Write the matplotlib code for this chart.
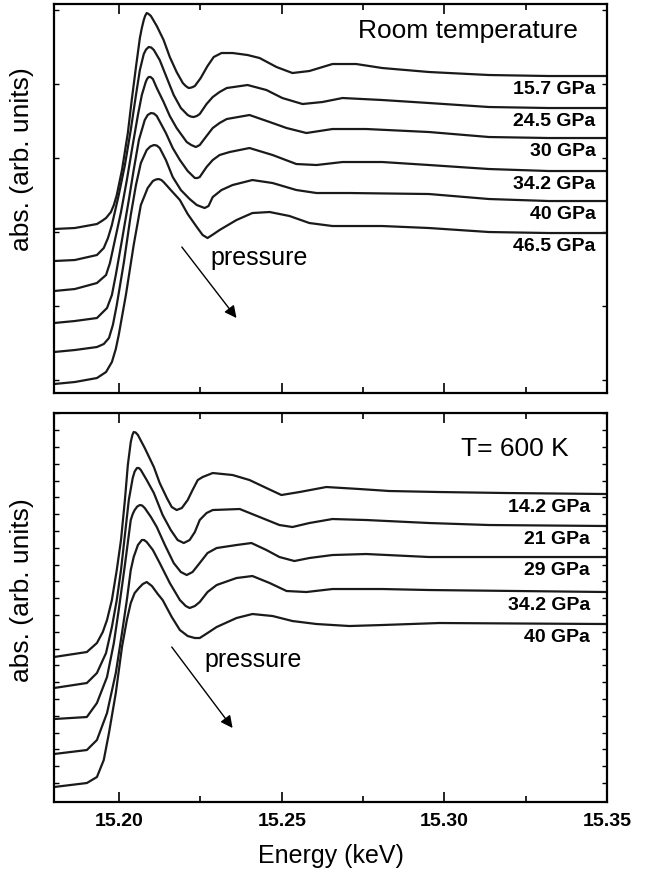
import matplotlib
matplotlib.use("Agg")
import matplotlib.pyplot as plt
import numpy as np
from matplotlib.ticker import MultipleLocator, FixedLocator

plt.rcParams["font.family"] = ["Liberation Sans", "DejaVu Sans"]

# ---- room temperature spectra (energy in keV, absorption in arb. units, stacked) ----
rt_labels = ["15.7 GPa", "24.5 GPa", "30 GPa", "34.2 GPa", "40 GPa", "46.5 GPa"]

rt_e1 = [15.1800, 15.1864, 15.1932, 15.1947, 15.1960, 15.1975, 15.1984, 15.1993, 15.2009, 15.2027,
         15.2039, 15.2052, 15.2064, 15.2070, 15.2076, 15.2080, 15.2085, 15.2091, 15.2098, 15.2107,
         15.2116, 15.2137, 15.2156, 15.2177, 15.2196, 15.2205, 15.2214, 15.2223, 15.2233, 15.2251,
         15.2272, 15.2291, 15.2315, 15.2349, 15.2395, 15.2432, 15.2484, 15.2533, 15.2585, 15.2656,
         15.2729, 15.2809, 15.2953, 15.3137, 15.3321, 15.3500]
rt_a1 = [164, 165, 169, 172, 175, 181, 188, 198, 223, 260,
         293, 326, 355, 365, 373, 377, 380, 379, 377, 372,
         367, 353, 336, 321, 310, 307, 305, 305.5, 307, 315,
         327, 336, 340, 340, 338, 335, 326, 320, 322, 329,
         329, 325, 321, 318, 317, 317]

rt_e2 = [15.1800, 15.1864, 15.1932, 15.1953, 15.1966, 15.1978, 15.1999, 15.2018, 15.2036, 15.2052,
         15.2064, 15.2076, 15.2083, 15.2091, 15.2099, 15.2107, 15.2125, 15.2147, 15.2168, 15.2190,
         15.2211, 15.2220, 15.2229, 15.2239, 15.2248, 15.2269, 15.2288, 15.2309, 15.2331, 15.2395,
         15.2453, 15.2502, 15.2564, 15.2625, 15.2687, 15.2809, 15.2953, 15.3137, 15.3321, 15.3500]
rt_a2 = [132, 133, 138, 145, 155, 168, 198, 228, 263, 298,
         323, 339, 343.5, 346, 345.5, 343, 333, 315, 298, 285,
         278, 276.5, 276, 277, 279, 289, 296, 301, 305, 308,
         303, 295, 289, 291, 295, 293, 290, 286, 285, 285]

rt_e3 = [15.1800, 15.1864, 15.1932, 15.1960, 15.1972, 15.1984, 15.2006, 15.2024, 15.2042, 15.2058,
         15.2070, 15.2082, 15.2086, 15.2091, 15.2097, 15.2104, 15.2116, 15.2137, 15.2156, 15.2177,
         15.2208, 15.2222, 15.2236, 15.2248, 15.2269, 15.2288, 15.2309, 15.2331, 15.2401, 15.2463,
         15.2515, 15.2576, 15.2656, 15.2760, 15.2953, 15.3137, 15.3321, 15.3500]
rt_a3 = [102, 104, 110, 118, 130, 148, 181, 213, 248, 278,
         298, 311, 314, 316, 316, 314, 305, 291, 277, 265,
         251, 248, 246, 248, 257, 265, 270, 274, 278, 271,
         265, 260, 264, 264, 261, 256, 255, 255]

rt_e4 = [15.1800, 15.1864, 15.1932, 15.1963, 15.1978, 15.1990, 15.2009, 15.2030, 15.2045, 15.2061,
         15.2079, 15.2088, 15.2098, 15.2107, 15.2116, 15.2144, 15.2165, 15.2187, 15.2211, 15.2233,
         15.2241, 15.2248, 15.2269, 15.2288, 15.2309, 15.2340, 15.2401, 15.2472, 15.2545, 15.2607,
         15.2687, 15.2809, 15.2953, 15.3137, 15.3321, 15.3500]
rt_a4 = [70, 72, 75, 85, 98, 118, 153, 193, 223, 253,
         273, 278, 280, 279.5, 277, 260, 245, 233, 222, 215,
         215, 216, 226, 233, 238, 241, 245, 238, 229, 228,
         231, 231, 228, 224, 222, 222]

rt_e5 = [15.1800, 15.1864, 15.1932, 15.1953, 15.1969, 15.1981, 15.1993, 15.2015, 15.2036, 15.2052,
         15.2067, 15.2085, 15.2096, 15.2107, 15.2116, 15.2125, 15.2144, 15.2165, 15.2190, 15.2217,
         15.2239, 15.2263, 15.2275, 15.2288, 15.2315, 15.2349, 15.2410, 15.2472, 15.2545, 15.2607,
         15.2708, 15.2953, 15.3137, 15.3321, 15.3500]
rt_a5 = [41, 43, 46, 49, 55, 68, 88, 131, 178, 208,
         230, 243, 246.5, 248, 247.5, 245, 233, 216, 203, 194,
         188, 185, 187, 196, 203, 208, 213, 210, 203, 200,
         200, 199, 194, 192, 192]

rt_e6 = [15.1800, 15.1864, 15.1932, 15.1960, 15.1978, 15.1990, 15.1999, 15.2021, 15.2045, 15.2067,
         15.2088, 15.2104, 15.2113, 15.2122, 15.2130, 15.2137, 15.2159, 15.2187, 15.2211, 15.2239,
         15.2257, 15.2272, 15.2291, 15.2309, 15.2361, 15.2410, 15.2463, 15.2524, 15.2585, 15.2656,
         15.2809, 15.2953, 15.3137, 15.3321, 15.3500]
rt_a6 = [9, 11, 15, 21, 31, 44, 58, 98, 148, 188,
         205, 212, 213.5, 214, 213, 211, 203, 193, 179, 166,
         158, 155, 159, 163, 173, 180, 181, 177, 170, 167,
         167, 165, 161, 160, 160]

# ---- T = 600 K spectra ----
ht_labels = ["14.2 GPa", "21 GPa", "29 GPa", "34.2 GPa", "40 GPa"]

ht_e1 = [15.1800, 15.1901, 15.1932, 15.1950, 15.1963, 15.1978, 15.1993, 15.2006, 15.2018, 15.2027,
         15.2036, 15.2041, 15.2045, 15.2051, 15.2058, 15.2079, 15.2107, 15.2125, 15.2147, 15.2162,
         15.2177, 15.2193, 15.2211, 15.2226, 15.2242, 15.2257, 15.2288, 15.2349, 15.2401, 15.2453,
         15.2499, 15.2555, 15.2637, 15.2739, 15.2831, 15.2984, 15.3190, 15.3500]
ht_a1 = [145, 150, 159, 170, 182, 202, 232, 262, 302, 337,
         360, 367, 370, 369.5, 367, 354, 335, 319, 304, 295,
         292, 294, 302, 312, 322, 325, 329, 327, 322, 314,
         307, 310, 315, 313, 311, 310, 309, 308]

ht_e2 = [15.1800, 15.1901, 15.1932, 15.1960, 15.1978, 15.1993, 15.2006, 15.2018, 15.2030, 15.2042,
         15.2048, 15.2055, 15.2061, 15.2067, 15.2085, 15.2107, 15.2134, 15.2159, 15.2180, 15.2199,
         15.2217, 15.2233, 15.2248, 15.2269, 15.2288, 15.2371, 15.2432, 15.2493, 15.2533, 15.2585,
         15.2656, 15.2760, 15.2953, 15.3137, 15.3500]
ht_a2 = [114, 119, 129, 149, 175, 202, 232, 267, 302, 324,
         330.5, 334, 334, 332, 322, 309, 287, 272, 262, 259,
         262, 270, 282, 289, 292, 293, 285, 277, 275, 279,
         283, 282, 279, 277, 276]

ht_e3 = [15.1800, 15.1901, 15.1932, 15.1963, 15.1984, 15.1999, 15.2018, 15.2036, 15.2042, 15.2048,
         15.2056, 15.2064, 15.2071, 15.2079, 15.2098, 15.2116, 15.2141, 15.2168, 15.2190, 15.2208,
         15.2226, 15.2248, 15.2272, 15.2300, 15.2361, 15.2407, 15.2453, 15.2493, 15.2539, 15.2585,
         15.2656, 15.2760, 15.2953, 15.3500]
ht_a3 = [83, 85, 99, 125, 159, 192, 237, 282, 288, 292,
         295.5, 297, 296.5, 294, 285, 275, 257, 239, 230, 227,
         230, 239, 249, 254, 257, 259, 252, 245, 241, 244,
         247, 248, 245, 245]

ht_e4 = [15.1800, 15.1901, 15.1932, 15.1963, 15.1990, 15.2009, 15.2024, 15.2036, 15.2045, 15.2058,
         15.2070, 15.2077, 15.2085, 15.2104, 15.2125, 15.2156, 15.2187, 15.2205, 15.2217, 15.2233,
         15.2248, 15.2272, 15.2300, 15.2361, 15.2410, 15.2463, 15.2515, 15.2576, 15.2656, 15.2809,
         15.2953, 15.3500]
ht_a4 = [48, 52, 62, 89, 129, 169, 202, 232, 245, 257,
         262, 262, 260, 252, 239, 219, 202, 196, 194, 196,
         200, 210, 217, 224, 226, 219, 211, 210, 213, 213,
         212, 210]

ht_e5 = [15.1800, 15.1901, 15.1932, 15.1953, 15.1969, 15.1990, 15.2009, 15.2024, 15.2036, 15.2048,
         15.2061, 15.2073, 15.2085, 15.2101, 15.2119, 15.2134, 15.2162, 15.2187, 15.2211, 15.2233,
         15.2248, 15.2272, 15.2300, 15.2361, 15.2410, 15.2472, 15.2533, 15.2607, 15.2708, 15.2809,
         15.2984, 15.3500]
ht_a5 = [15, 19, 25, 42, 69, 109, 155, 182, 199, 209,
         214, 218, 220, 216, 208, 202, 185, 172, 166, 164,
         164, 169, 175, 184, 188, 186, 181, 178, 176, 177,
         179, 178]

rt_curves = [(rt_e1, rt_a1), (rt_e2, rt_a2), (rt_e3, rt_a3),
             (rt_e4, rt_a4), (rt_e5, rt_a5), (rt_e6, rt_a6)]
ht_curves = [(ht_e1, ht_a1), (ht_e2, ht_a2), (ht_e3, ht_a3),
             (ht_e4, ht_a4), (ht_e5, ht_a5)]

fig = plt.figure(figsize=(6.45, 8.73), dpi=100)
ax_top = fig.add_axes([0.0837, 0.5498, 0.8574, 0.4456])
ax_bot = fig.add_axes([0.0837, 0.0813, 0.8574, 0.4456])


def draw_panel(ax, curves, labels, label_x, title, title_xy, arrow_from, arrow_to, text_xy, yticks):
    for (e, a), lab in zip(curves, labels):
        ax.plot(e, a, color="#1a1a1a", lw=1.6, solid_joinstyle="round")
        ax.text(label_x, a[-1] - 13, lab, ha="right", va="center",
                fontsize=14, fontweight="bold")
    ax.text(title_xy[0], title_xy[1], title, ha="center", va="center", fontsize=19)
    ax.annotate("", xy=arrow_to, xytext=arrow_from,
                arrowprops=dict(arrowstyle="-|>", color="black", lw=1.0,
                                mutation_scale=18, shrinkA=0, shrinkB=0))
    ax.text(text_xy[0], text_xy[1], "pressure", ha="center", va="center", fontsize=18)

    ax.set_xlim(15.18, 15.35)
    ax.set_ylim(0, 389)
    ax.xaxis.set_major_locator(MultipleLocator(0.05))
    ax.xaxis.set_minor_locator(MultipleLocator(0.025))
    ax.yaxis.set_major_locator(FixedLocator(yticks))
    ax.set_yticklabels([])
    ax.tick_params(axis="x", which="major", direction="in", top=True, bottom=True,
                   length=7, width=1.2)
    ax.tick_params(axis="x", which="minor", direction="in", top=True, bottom=True,
                   length=4, width=1.2)
    ax.tick_params(axis="y", which="major", direction="in", left=True, right=True,
                   length=3.5, width=1.0)
    for s in ax.spines.values():
        s.set_linewidth(1.6)
    ax.set_ylabel("abs. (arb. units)", fontsize=19)


draw_panel(ax_top, rt_curves, rt_labels, 15.3465, "Room temperature", (15.3072, 362),
           (15.2193, 146), (15.2361, 75), (15.2430, 135), np.arange(13, 389, 74))
ax_top.tick_params(axis="x", labelbottom=False)
ax_top.yaxis.set_label_coords(-0.036, 0.60)

draw_panel(ax_bot, ht_curves, ht_labels, 15.3447, "T= 600 K", (15.3216, 353),
           (15.2162, 155), (15.2349, 74), (15.2412, 142), np.arange(19, 389, 16.8))
ax_bot.yaxis.set_label_coords(-0.036, 0.545)
ax_bot.set_xticks([15.20, 15.25, 15.30, 15.35])
ax_bot.set_xticklabels(["15.20", "15.25", "15.30", "15.35"], fontweight="bold", fontsize=14)
ax_bot.tick_params(axis="x", which="major", pad=8)
ax_bot.set_xlabel("Energy (keV)", fontsize=18, labelpad=10)

fig.savefig("out.png", dpi=100)
